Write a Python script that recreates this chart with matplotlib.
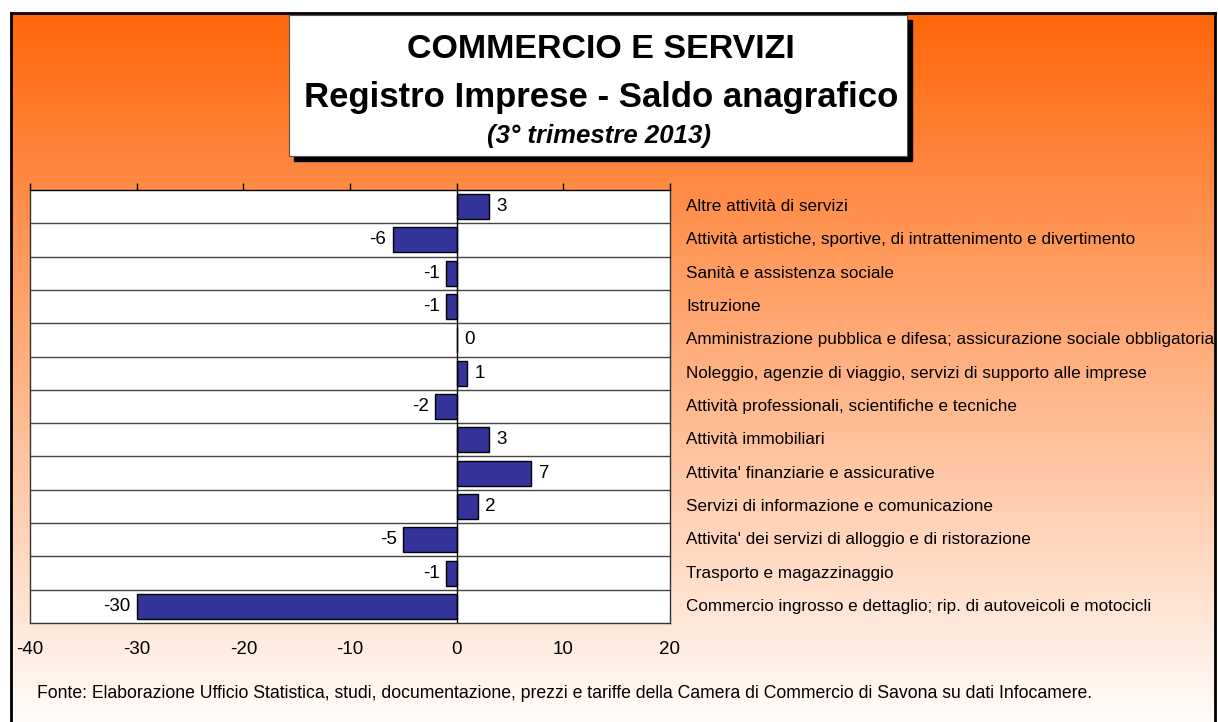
import numpy as np
import matplotlib
matplotlib.use("Agg")
import matplotlib.pyplot as plt
from matplotlib.patches import Rectangle

plt.rcParams['font.family'] = ['Liberation Sans', 'DejaVu Sans']

categories = [
    "Altre attività di servizi",
    "Attività artistiche, sportive, di intrattenimento e divertimento",
    "Sanità e assistenza sociale",
    "Istruzione",
    "Amministrazione pubblica e difesa; assicurazione sociale obbligatoria",
    "Noleggio, agenzie di viaggio, servizi di supporto alle imprese",
    "Attività professionali, scientifiche e tecniche",
    "Attività immobiliari",
    "Attivita' finanziarie e assicurative",
    "Servizi di informazione e comunicazione",
    "Attivita' dei servizi di alloggio e di ristorazione",
    "Trasporto e magazzinaggio",
    "Commercio ingrosso e dettaglio; rip. di autoveicoli e motocicli",
]
values = [3, -6, -1, -1, 0, 1, -2, 3, 7, 2, -5, -1, -30]
xticks = [-40, -30, -20, -10, 0, 10, 20]

W, H = 1218, 722
fig = plt.figure(figsize=(W / 100, H / 100), dpi=100)
fig.patch.set_facecolor("white")

def fx(px):
    return px / W

def fy(py):
    return 1 - py / H

# gradient background frame
bg = fig.add_axes([fx(11), fy(722), fx(1215) - fx(11), fy(13) - fy(722)])
top = np.array([255, 102, 10]) / 255
bot = np.array([255, 252, 250]) / 255
t = np.linspace(0, 1, 256)[:, None]
grad = top[None, :] * (1 - t) + bot[None, :] * t
grad = np.repeat(grad[:, None, :], 2, axis=1)
bg.imshow(grad, aspect="auto", extent=[0, 1, 0, 1], origin="upper")
bg.set_xlim(0, 1)
bg.set_ylim(0, 1)
bg.set_xticks([])
bg.set_yticks([])
for s in ["top", "left", "right"]:
    bg.spines[s].set_linewidth(2)
    bg.spines[s].set_color("black")
bg.spines["bottom"].set_visible(False)

# title box with shadow
ov = fig.add_axes([0, 0, 1, 1], facecolor="none")
ov.set_xlim(0, W)
ov.set_ylim(H, 0)
ov.axis("off")
ov.add_patch(Rectangle((294, 20), 618, 141, facecolor="black", edgecolor="black", zorder=1))
ov.add_patch(Rectangle((289, 15), 618, 141, facecolor="white", edgecolor="#555555", linewidth=0.8, zorder=2))
ov.text(601, 50, "COMMERCIO E SERVIZI", ha="center", va="center", fontsize=24.5, fontweight="bold", zorder=3)
ov.text(601, 97, "Registro Imprese - Saldo anagrafico", ha="center", va="center", fontsize=25, fontweight="bold", zorder=3)
ov.text(599, 136, "(3° trimestre 2013)", ha="center", va="center", fontsize=18.5, fontweight="bold", fontstyle="italic", zorder=3)
ov.text(37, 694, "Fonte: Elaborazione Ufficio Statistica, studi, documentazione, prezzi e tariffe della Camera di Commercio di Savona su dati Infocamere.",
        ha="left", va="center", fontsize=12.7)

# main chart
ax = fig.add_axes([fx(30), fy(623), fx(670) - fx(30), fy(190) - fy(623)])
ax.set_facecolor("white")
n = len(categories)
y = np.arange(n)
ax.barh(y, values, height=0.75, color="#333399", edgecolor="black", linewidth=1.0, zorder=3)
ax.set_xlim(-40, 20)
ax.set_ylim(n - 0.5, -0.5)
for b in np.arange(0.5, n - 0.5, 1):
    ax.axhline(b, color="#444444", linewidth=1.0, zorder=1)
ax.axvline(0, color="black", linewidth=1.0, zorder=4)
ax.set_yticks([])
ax.set_xticks(xticks)
ax.tick_params(axis="x", which="both", top=True, bottom=False, labeltop=False, labelbottom=True,
               direction="out", length=5, width=1, labelsize=13.5, pad=8)
ax.set_xticklabels([str(v) for v in xticks])
for s in ax.spines.values():
    s.set_color("#333333")
    s.set_linewidth(1.0)
ax.spines["top"].set_color("black")

for yi, v, c in zip(y, values, categories):
    if v < 0:
        ax.text(v - 0.6, yi, str(v), ha="right", va="center", fontsize=13.5, zorder=5)
    else:
        ax.text(v + 0.7, yi, str(v), ha="left", va="center", fontsize=13.5, zorder=5)
    ax.text(21.5, yi, c, ha="left", va="center", fontsize=12.3, clip_on=False)

fig.savefig("out.png", dpi=100)
